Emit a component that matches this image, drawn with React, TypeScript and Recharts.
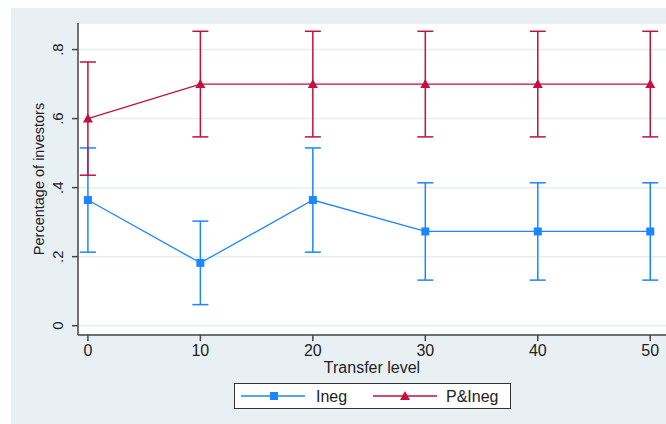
import { LineChart, Line, XAxis, YAxis, CartesianGrid, ErrorBar } from 'recharts';

const transferLevels = [0, 10, 20, 30, 40, 50];
const inegShare = [0.364, 0.182, 0.364, 0.273, 0.273, 0.273];
const inegErr = [0.151, 0.121, 0.151, 0.141, 0.141, 0.141];
const pIneqShare = [0.6, 0.7, 0.7, 0.7, 0.7, 0.7];
const pIneqErr = [0.164, 0.153, 0.153, 0.153, 0.153, 0.153];
const yTicks = [0, 0.2, 0.4, 0.6, 0.8];
const xTicks = [0, 10, 20, 30, 40, 50];

const BLUE = '#1a87ff';
const RED = '#c4103c';
const FONT = '"Liberation Sans", Arial, sans-serif';

const data = transferLevels.map((t, i) => ({
  level: t,
  ineg: inegShare[i],
  inegErr: inegErr[i],
  pineg: pIneqShare[i],
  pinegErr: pIneqErr[i],
}));

const fmtY = (v: number) => (v === 0 ? '0' : String(v).replace(/^0/, ''));

const YTick = ({ y, payload }: any) => (
  <text
    x={58}
    y={y}
    transform={`rotate(-90, 58, ${y})`}
    textAnchor="middle"
    dominantBaseline="central"
    fontSize={15}
    fontFamily={FONT}
    fill="#222"
  >
    {fmtY(payload.value)}
  </text>
);

const SquareDot = ({ cx, cy }: any) => (
  <rect x={cx - 4} y={cy - 4} width={8} height={8} fill={BLUE} />
);

const TriDot = ({ cx, cy }: any) => (
  <path d={`M${cx},${cy - 5} L${cx + 5},${cy + 4} L${cx - 5},${cy + 4} Z`} fill={RED} />
);

const LegendBox = () => (
  <svg width={278} height={27} style={{ position: 'absolute', left: 234, top: 383 }}>
    <rect x={0.5} y={0.5} width={276} height={25} fill="#fff" stroke="#333" />
    <line x1={7} x2={71} y1={13} y2={13} stroke={BLUE} strokeWidth={1.5} />
    <rect x={36} y={9} width={8} height={8} fill={BLUE} />
    <text x={82} y={19} fontSize={16} fontFamily={FONT} fill="#222">Ineg</text>
    <line x1={139} x2={203} y1={13} y2={13} stroke={RED} strokeWidth={1.5} />
    <path d="M171,8 L176,17 L166,17 Z" fill={RED} />
    <text x={212} y={19} fontSize={16} fontFamily={FONT} fill="#222">P&amp;Ineg</text>
  </svg>
);

export default function App() {
  return (
    <div style={{ position: 'absolute', left: 0, top: 0, width: 666, height: 424, background: '#fff' }}>
      <div style={{ position: 'absolute', left: 11, top: 8, width: 655, height: 416, background: '#e9f0f3' }} />
      <LineChart
        width={666}
        height={424}
        data={data}
        margin={{ top: 23, right: 0, bottom: 69, left: 0 }}
        style={{ position: 'absolute', left: 0, top: 0 }}
      >
        <CartesianGrid vertical={false} stroke="#e6eef0" strokeWidth={1.5} fill="#fff" />
        <XAxis
          dataKey="level"
          type="number"
          domain={[-0.88, 51.4]}
          ticks={xTicks}
          allowDataOverflow
          height={20}
          tickSize={6}
          tickMargin={4}
          stroke="#444"
          strokeWidth={1.5}
          tick={{ fontSize: 16, fontFamily: FONT, fill: '#222' }}
          label={({ viewBox }: any) => (
            <text
              x={viewBox.x + viewBox.width / 2}
              y={373}
              textAnchor="middle"
              fontSize={16}
              fontFamily={FONT}
              fill="#222"
            >
              Transfer level
            </text>
          )}
        />
        <YAxis
          type="number"
          domain={[-0.027, 0.877]}
          ticks={yTicks}
          allowDataOverflow
          width={78}
          tickSize={6}
          stroke="#444"
          strokeWidth={1.5}
          tick={<YTick />}
          label={() => (
            <text
              x={39}
              y={179}
              transform="rotate(-90, 39, 179)"
              textAnchor="middle"
              dominantBaseline="central"
              fontSize={14.5}
              fontFamily={FONT}
              fill="#222"
            >
              Percentage of investors
            </text>
          )}
        />
        <Line
          dataKey="ineg"
          stroke={BLUE}
          strokeWidth={1.3}
          dot={<SquareDot />}
          activeDot={false}
          isAnimationActive={false}
        >
          <ErrorBar dataKey="inegErr" width={8} stroke={BLUE} strokeWidth={1.5} direction="y" />
        </Line>
        <Line
          dataKey="pineg"
          stroke={RED}
          strokeWidth={1.3}
          dot={<TriDot />}
          activeDot={false}
          isAnimationActive={false}
        >
          <ErrorBar dataKey="pinegErr" width={8} stroke={RED} strokeWidth={1.5} direction="y" />
        </Line>
      </LineChart>
      <LegendBox />
    </div>
  );
}
